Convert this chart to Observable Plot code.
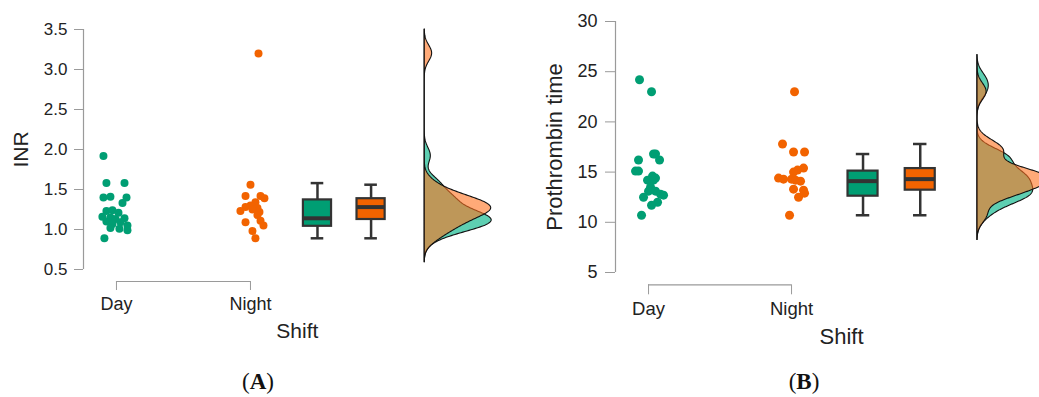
<!DOCTYPE html>
<html><head><meta charset="utf-8">
<script src="https://cdn.jsdelivr.net/npm/d3@7"></script>
<script src="https://cdn.jsdelivr.net/npm/@observablehq/plot@0.6"></script>
<style>
html,body{margin:0;padding:0;background:#fff;overflow:hidden}
#wrap{position:relative;width:1039px;height:397px;overflow:hidden}
.panel{position:absolute;top:0}
.cap{position:absolute;font-family:"Liberation Serif","Times New Roman",serif;font-size:23px;color:#111;transform:translate(-50%,-50%);white-space:nowrap}
</style></head><body>
<div id="wrap"></div>
<script>
// ---- data ----
const shifts = ["Day", "Night"];

// Panel A: INR
const inrDay = [1.92, 1.58, 1.58, 1.40, 1.41, 1.40, 1.33, 1.23, 1.24, 1.21, 1.16, 1.15, 1.14, 1.13, 1.10, 1.09, 1.07, 1.05, 1.02, 1.01, 0.99, 0.89];
const inrDayJitter = [-0.097, -0.075, 0.06, -0.097, -0.045, 0.075, 0.045, -0.075, -0.03, 0.015, -0.105, -0.045, 0.06, -0.007, -0.075, 0.03, -0.03, 0.082, -0.045, 0.022, 0.082, -0.09];
const inrNight = [3.20, 1.56, 1.42, 1.42, 1.39, 1.34, 1.30, 1.28, 1.27, 1.25, 1.23, 1.22, 1.18, 1.11, 1.09, 1.05, 0.98, 0.89];
const inrNightJitter = [0.06, 0, -0.037, 0.075, 0.104, 0.037, 0, -0.037, 0.052, 0.015, -0.075, 0.067, 0.052, 0.075, -0.037, 0.097, 0.015, 0.037];
// box stats: min, q1, median, q3, max
const inrBoxDay = [0.89, 1.04, 1.14, 1.37, 1.58];
const inrBoxNight = [0.89, 1.125, 1.28, 1.385, 1.56];
const inrTicks = [0.5, 1.0, 1.5, 2.0, 2.5, 3.0, 3.5];

// Panel B: Prothrombin time
const ptDay = [24.2, 23.0, 16.8, 16.8, 16.2, 16.2, 15.1, 15.1, 14.6, 14.4, 14.2, 14.2, 13.5, 13.1, 13.1, 12.8, 12.7, 12.5, 12.0, 11.7, 10.7];
const ptDayJitter = [-0.063, 0.021, 0.035, 0.049, -0.07, 0.077, -0.091, -0.07, 0.028, 0.049, -0.007, 0.035, 0.014, 0, 0.049, 0.084, 0.105, -0.035, 0.063, 0.021, -0.049];
const ptNight = [23.0, 17.8, 17.0, 17.0, 15.4, 15.2, 15.0, 14.4, 14.3, 14.3, 14.2, 14.1, 13.3, 13.2, 12.9, 12.5, 10.7];
const ptNightJitter = [0.021, -0.063, 0.014, 0.091, 0.084, 0.042, 0.014, -0.091, -0.056, 0, 0.028, 0.063, 0.014, 0.084, 0.091, 0.049, -0.014];
const ptBoxDay = [10.7, 12.6, 14.1, 15.1, 16.8];
const ptBoxNight = [10.7, 13.2, 14.3, 15.35, 17.8];
const ptTicks = [5, 10, 15, 20, 25, 30];

// ---- layout / style ----
const layout = {catPos: {Day: 0, Night: 1}, boxPos: {Day: 1.5, Night: 1.9}, boxHalf: 0.105, capHalf: 0.047, densityBase: 2.3, densityMax: 0.5, shiftLabelX: 1.35};
const pointColors = ["#009E73", "#F26300"];
const densityFill = {Day: "#1ABA91", Night: "#FF711E"};
const axisGray = "#9a9a9a", textColor = "#222", boxStroke = "#333";

function rows(values, jitter, shift) { return values.map((v, i) => ({shift, value: v, jitter: jitter[i]})); }
function statRow(shift, s) { return {shift, min: s[0], q1: s[1], med: s[2], q3: s[3], max: s[4]}; }

function panel(cfg, dayVals, dayJit, nightVals, nightJit, boxDay, boxNight) {
  const pts = [...rows(dayVals, dayJit, "Day"), ...rows(nightVals, nightJit, "Night")];
  const boxes = [statRow("Day", boxDay), statRow("Night", boxNight)];
  const all = pts.map(d => d.value);
  const lo = d3.min(all) - 3 * cfg.bw, hi = d3.max(all) + 3 * cfg.bw;
  const grid = d3.range(0, 401).map(i => lo + (hi - lo) * i / 400);
  const kde = vals => grid.map(g => ({y: g, d: d3.mean(vals, v => Math.exp(-0.5 * ((g - v) / cfg.bw) ** 2)) / (cfg.bw * Math.sqrt(2 * Math.PI))}));
  const dDay = kde(dayVals), dNight = kde(nightVals);
  const k = layout.densityMax / Math.max(d3.max(dDay, d => d.d), d3.max(dNight, d => d.d));
  const base = layout.densityBase;
  const bx = d => layout.boxPos[d.shift];
  return Plot.plot({
    width: cfg.width, height: cfg.height,
    marginTop: cfg.marginTop, marginBottom: cfg.marginBottom, marginLeft: cfg.marginLeft, marginRight: 0,
    x: {domain: cfg.xDomain},
    y: {domain: cfg.yDomain},
    color: {domain: shifts, range: pointColors},
    style: {background: "transparent", fontFamily: "'Liberation Sans', Arial, sans-serif", fontSize: cfg.tickFont + "px", color: textColor, overflow: "visible"},
    marks: [
      Plot.ruleX([cfg.xDomain[0]], {y1: () => cfg.yDomain[0], y2: () => cfg.yDomain[1], stroke: axisGray, strokeWidth: 1.2}),
      Plot.axisY(cfg.yTicks, {anchor: "left", tickSize: cfg.yTickSize, tickPadding: cfg.yTickPadding, tickFormat: cfg.fmt, stroke: axisGray, fill: textColor, fontSize: cfg.tickFont, label: null}),
      Plot.ruleY([cfg.yDomain[0]], {x1: () => layout.catPos.Day, x2: () => layout.catPos.Night, dy: cfg.bracketDy, stroke: axisGray, strokeWidth: 1.2}),
      Plot.axisX([layout.catPos.Day, layout.catPos.Night], {anchor: "bottom", tickSize: cfg.bracketTick, tickPadding: 7, dy: cfg.bracketDy, tickFormat: v => shifts[v], stroke: axisGray, fill: textColor, fontSize: cfg.catFont, label: null}),
      Plot.text([cfg.title], {frameAnchor: "left", textAnchor: "middle", dx: cfg.titleX - cfg.marginLeft, rotate: -90, fontSize: cfg.titleFont, fill: textColor}),
      Plot.text(["Shift"], {x: () => layout.shiftLabelX, frameAnchor: "bottom", textAnchor: "middle", dy: cfg.shiftDy, fontSize: cfg.titleFont, fill: textColor}),
      // jittered points
      Plot.dot(pts, {x: d => layout.catPos[d.shift] + d.jitter, y: "value", r: cfg.r, fill: "shift", stroke: "none"}),
      // boxplots
      Plot.ruleX(boxes, {x: bx, y1: "min", y2: "max", stroke: boxStroke, strokeWidth: 2.5}),
      Plot.ruleY(boxes, {y: "min", x1: d => bx(d) - layout.capHalf, x2: d => bx(d) + layout.capHalf, stroke: boxStroke, strokeWidth: 2.5}),
      Plot.ruleY(boxes, {y: "max", x1: d => bx(d) - layout.capHalf, x2: d => bx(d) + layout.capHalf, stroke: boxStroke, strokeWidth: 2.5}),
      Plot.rect(boxes, {x1: d => bx(d) - layout.boxHalf, x2: d => bx(d) + layout.boxHalf, y1: "q1", y2: "q3", fill: "shift", stroke: boxStroke, strokeWidth: 2.2}),
      Plot.ruleY(boxes, {y: "med", x1: d => bx(d) - layout.boxHalf, x2: d => bx(d) + layout.boxHalf, stroke: boxStroke, strokeWidth: 4}),
      // densities
      Plot.areaX(dDay, {y: "y", x1: () => base, x2: d => base + d.d * k, fill: densityFill.Day, fillOpacity: 0.7, stroke: "#111", strokeWidth: 1.1}),
      Plot.areaX(dNight, {y: "y", x1: () => base, x2: d => base + d.d * k, fill: densityFill.Night, fillOpacity: 0.6, stroke: "#111", strokeWidth: 1.1})
    ]
  });
}

const cfgA = {left: 0, width: 520, height: 350, marginTop: 29, marginBottom: 81, marginLeft: 83, xDomain: [-0.246, 3.015], yDomain: [0.5, 3.5], yTicks: inrTicks, fmt: d3.format(".1f"), yTickSize: 9, yTickPadding: 7, tickFont: 17, catFont: 18, titleFont: 21, r: 4, bw: 0.1, title: "INR", titleX: 20.5, bracketDy: 12, bracketTick: 9, shiftDy: 68, caption: "A", capX: 258};
const cfgB = {left: 520, width: 519, height: 350, marginTop: 21, marginBottom: 78, marginLeft: 95, xDomain: [-0.231, 2.734], yDomain: [5, 30], yTicks: ptTicks, fmt: d3.format("d"), yTickSize: 10, yTickPadding: 8, tickFont: 18, catFont: 18.5, titleFont: 22, r: 4.5, bw: 0.82, title: "Prothrombin time", titleX: 34.3, bracketDy: 12.3, bracketTick: 10, shiftDy: 71, caption: "B", capX: 804};

const wrap = document.getElementById("wrap");
[[cfgA, inrDay, inrDayJitter, inrNight, inrNightJitter, inrBoxDay, inrBoxNight],
 [cfgB, ptDay, ptDayJitter, ptNight, ptNightJitter, ptBoxDay, ptBoxNight]].forEach(([cfg, ...args]) => {
  const div = document.createElement("div");
  div.className = "panel";
  div.style.left = cfg.left + "px";
  div.appendChild(panel(cfg, ...args));
  wrap.appendChild(div);
  const cap = document.createElement("div");
  cap.className = "cap";
  cap.style.left = cfg.capX + "px";
  cap.style.top = "382px";
  cap.innerHTML = "(<b>" + cfg.caption + "</b>)";
  wrap.appendChild(cap);
});
</script>
</body></html>
